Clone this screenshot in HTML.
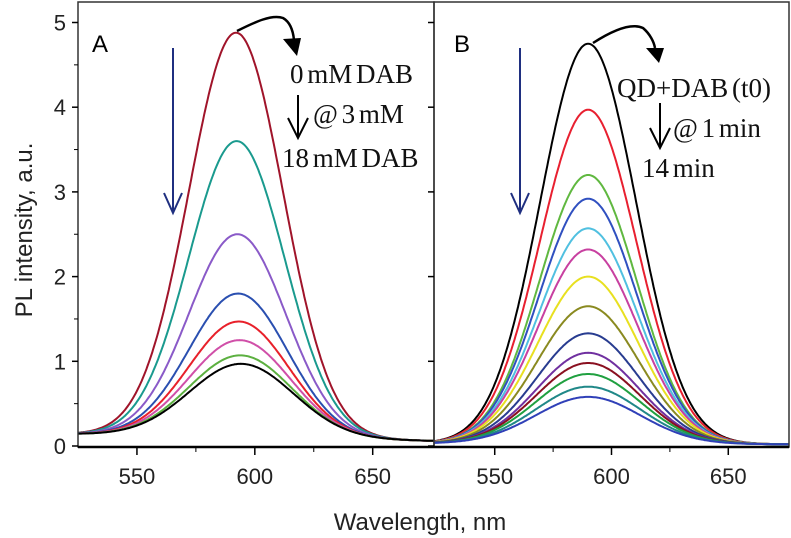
<!DOCTYPE html>
<html><head><meta charset="utf-8"><style>
body{margin:0;background:#fff;}
svg{display:block;font-family:"Liberation Sans",sans-serif;}
.ser{font-family:"Liberation Serif",serif;font-size:27px;fill:#111;word-spacing:-3px;}
</style></head><body>
<svg id="c" width="791" height="538">
<g id="plot"></g>
<text x="420" y="530" text-anchor="middle" font-size="24" fill="#222">Wavelength, nm</text>
<text transform="translate(32,230) rotate(-90)" text-anchor="middle" font-size="24" fill="#222">PL intensity, a.u.</text>
<text x="92" y="52" font-size="24" fill="#000">A</text>
<text x="454" y="52" font-size="24" fill="#000">B</text>
<g stroke="#1f2f80" stroke-width="2" fill="none">
<line x1="173" y1="48" x2="173" y2="213"/><polyline points="164,193 173,213 182,193"/></g>
<g stroke="#1f2f80" stroke-width="2" fill="none">
<line x1="520" y1="48" x2="520" y2="213"/><polyline points="511,193 520,213 529,193"/></g>
<g><path d="M237,31 C255,22 272,14 283,18 C290,22 293,30 294,40" fill="none" stroke="#000" stroke-width="2.5"/><polygon points="283,39 301,38 297,56" fill="#000"/></g>
<g><path d="M593,43 C610,32 630,22 643,28 C650,34 654,42 655,48" fill="none" stroke="#000" stroke-width="2.5"/><polygon points="646,48 664,48 659,63" fill="#000"/></g>
<text class="ser" x="290" y="83">0 mM DAB</text>
<text class="ser" x="313" y="123">@ 3 mM</text>
<text class="ser" x="282" y="167">18 mM DAB</text>
<g stroke="#000" stroke-width="2" fill="none"><line x1="298" y1="95" x2="298" y2="138"/><polyline points="288,118 298,138 308,118"/></g>
<text class="ser" x="617" y="97">QD+DAB (t0)</text>
<text class="ser" x="673" y="137">@ 1 min</text>
<text class="ser" x="642" y="177">14 min</text>
<g stroke="#000" stroke-width="2" fill="none"><line x1="660" y1="103" x2="660" y2="148"/><polyline points="650,128 660,148 670,128"/></g>
</svg>
<script>
const yTicks=[0,1,2,3,4,5];
const xTicks=[550,600,650];
const peaksA=[4.88,3.6,2.5,1.8,1.47,1.25,1.07,0.97];
const colorsA=["#a0142a","#1a9a8e","#8a5ac8","#2a4fb0","#e8202a","#d04fa8","#5cb040","#000000"];
const peaksB=[4.75,3.97,3.2,2.92,2.57,2.32,2.0,1.65,1.33,1.1,0.98,0.85,0.7,0.58];
const colorsB=["#000000","#e82030","#60b840","#3050c0","#50c0e0","#c840a0","#e8e020","#8a8a20","#283c90","#7030a0","#8a1020","#20a040","#208888","#3040b8"];
const NS="http://www.w3.org/2000/svg";
const g=document.getElementById('plot');
const Y0=446,YS=84.7;
function ys(v){return Y0-v*YS;}
const panels=[{l:78,r:434,xmin:525,xmax:676,c:592,s:20,peaks:peaksA,cols:colorsA,bl:0.14,br:0.06,name:'a'},
              {l:434,r:789,xmin:524,xmax:676,c:590,s:20.5,peaks:peaksB,cols:colorsB,bl:0.03,br:0.02,name:'b'}];
function el(t,a){const e=document.createElementNS(NS,t);for(const k in a)e.setAttribute(k,a[k]);g.appendChild(e);return e;}
panels.forEach((P,pi)=>{
  const xs=v=>P.l+(v-P.xmin)/(P.xmax-P.xmin)*(P.r-P.l);
  P.peaks.forEach((pk,i)=>{
    let d='';
    const sig=P.s+(pi==0? i*0.3 : i*0.15);
    for(let x=P.xmin;x<=P.xmax;x+=0.5){
      const bl=P.bl+(P.br-P.bl)*(x-P.xmin)/(P.xmax-P.xmin);
      const v=bl+(pk-bl)*Math.exp(-Math.pow(x-P.c-(pi==0?i*0.3:0),2)/(2*sig*sig));
      d+=(d?'L':'M')+xs(x).toFixed(1)+','+ys(v).toFixed(1);
    }
    const p=el('path',{d:d,fill:'none',stroke:P.cols[i],'stroke-width':2});
    
    
  });
  xTicks.forEach(t=>{
    el('line',{x1:xs(t),x2:xs(t),y1:447,y2:455,stroke:'#000','stroke-width':1.5});
    const tx=el('text',{x:xs(t),y:484,'text-anchor':'middle','font-size':22,fill:'#222'});tx.textContent=t;
    
    
  });
  [575,625].forEach(t=>el('line',{x1:xs(t),x2:xs(t),y1:447,y2:452,stroke:'#000'}));
  const fr=el('rect',{x:P.l,y:2,width:P.r-P.l,height:445,fill:'none',stroke:'#333','stroke-width':1.5});
  
  
});
el('line',{x1:78,x2:789,y1:447,y2:447,stroke:'#000','stroke-width':2.5});
yTicks.forEach(t=>{
  el('line',{x1:72,x2:78,y1:ys(t),y2:ys(t),stroke:'#000','stroke-width':1.5});
  el('line',{x1:428,x2:434,y1:ys(t),y2:ys(t),stroke:'#000','stroke-width':1.5});
  const tx=el('text',{x:66,y:ys(t)+8,'text-anchor':'end','font-size':22,fill:'#222'});tx.textContent=t;
  
  
});
[0.5,1.5,2.5,3.5,4.5].forEach(t=>el('line',{x1:74,x2:78,y1:ys(t),y2:ys(t),stroke:'#000'}));
</script>
</body></html>
